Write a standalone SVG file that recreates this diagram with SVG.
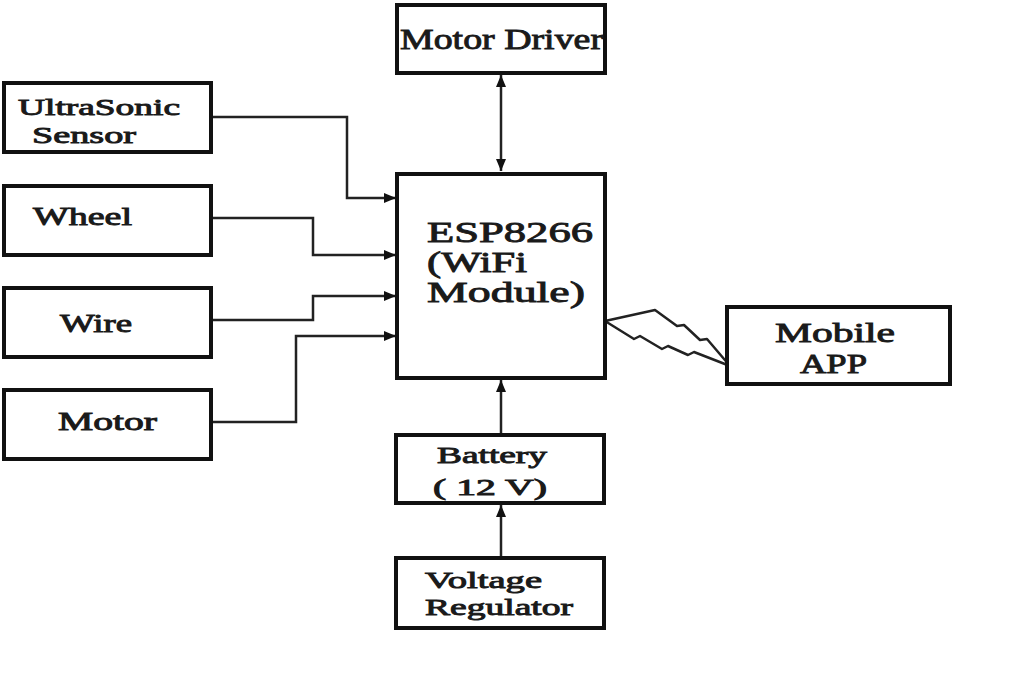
<svg xmlns="http://www.w3.org/2000/svg" width="1013" height="685" viewBox="0 0 1013 685">
<style>
.box{fill:#fff;stroke:#111;stroke-width:4}
.t{font-family:"Liberation Serif","Times New Roman",serif;font-weight:normal;fill:#1a1a1a;stroke:#1a1a1a;stroke-width:0.9}
.c{fill:none;stroke:#222;stroke-width:2.5}
</style>
<defs>
<marker id="ah" viewBox="0 0 12 10" refX="12" refY="5" markerWidth="12" markerHeight="10" markerUnits="userSpaceOnUse" orient="auto-start-reverse">
<path d="M0,0 L12,5 L0,10 Z" fill="#111"/>
</marker>
</defs>
<rect width="1013" height="685" fill="#fff"/>
<g id="connectors">
<path class="c" d="M211,117 H347 V198 H396" marker-end="url(#ah)"/>
<path class="c" d="M211,218 H313 V255 H396" marker-end="url(#ah)"/>
<path class="c" d="M211,320 H313 V296 H396" marker-end="url(#ah)"/>
<path class="c" d="M211,422 H296 V336 H396" marker-end="url(#ah)"/>
<path class="c" d="M501,75 V171" marker-start="url(#ah)" marker-end="url(#ah)"/>
<path class="c" d="M501,433 V380" marker-end="url(#ah)"/>
<path class="c" d="M501,556 V505" marker-end="url(#ah)"/>
<path class="c" d="M605,321 L655,310 L677,326 L684,325 L700,340 L707,339 L730,366 L694,352 L688,355 L668,346 L662,349 L640,336 L634,339 Z" stroke-linejoin="round"/>
</g>
<g id="motor-driver"><rect class="box" x="397" y="5" width="208" height="68"/><text class="t" x="400" y="49" font-size="30" textLength="203" lengthAdjust="spacingAndGlyphs">Motor Driver</text></g>
<g id="ultrasonic"><rect class="box" x="4" y="83" width="207" height="69"/><text class="t" x="18" y="115" font-size="24" textLength="162" lengthAdjust="spacingAndGlyphs">UltraSonic</text><text class="t" x="32" y="143" font-size="24" textLength="104" lengthAdjust="spacingAndGlyphs">Sensor</text></g>
<g id="wheel"><rect class="box" x="4" y="186" width="207" height="69"/><text class="t" x="33" y="225" font-size="25" textLength="99" lengthAdjust="spacingAndGlyphs">Wheel</text></g>
<g id="wire"><rect class="box" x="4" y="288" width="207" height="69"/><text class="t" x="60" y="332" font-size="25" textLength="72" lengthAdjust="spacingAndGlyphs">Wire</text></g>
<g id="motor"><rect class="box" x="4" y="390" width="207" height="69"/><text class="t" x="58" y="430" font-size="25" textLength="99" lengthAdjust="spacingAndGlyphs">Motor</text></g>
<g id="esp8266"><rect class="box" x="397" y="174" width="208" height="204"/><text class="t" x="427" y="242" font-size="30" textLength="166" lengthAdjust="spacingAndGlyphs">ESP8266</text><text class="t" x="427" y="272" font-size="30" textLength="100" lengthAdjust="spacingAndGlyphs">(WiFi</text><text class="t" x="427" y="302" font-size="30" textLength="158" lengthAdjust="spacingAndGlyphs">Module)</text></g>
<g id="mobile-app"><rect class="box" x="727" y="307" width="223" height="77"/><text class="t" x="775" y="342" font-size="28" textLength="120" lengthAdjust="spacingAndGlyphs">Mobile</text><text class="t" x="800" y="373" font-size="28" textLength="67" lengthAdjust="spacingAndGlyphs">APP</text></g>
<g id="battery"><rect class="box" x="396" y="435" width="208" height="68"/><text class="t" x="437" y="463" font-size="23" textLength="110" lengthAdjust="spacingAndGlyphs">Battery</text><text class="t" x="433" y="495" font-size="23" textLength="114" lengthAdjust="spacingAndGlyphs">( 12 V)</text></g>
<g id="voltage-regulator"><rect class="box" x="396" y="558" width="208" height="70"/><text class="t" x="425" y="588" font-size="24" textLength="117" lengthAdjust="spacingAndGlyphs">Voltage</text><text class="t" x="425" y="615" font-size="24" textLength="148" lengthAdjust="spacingAndGlyphs">Regulator</text></g>
</svg>
